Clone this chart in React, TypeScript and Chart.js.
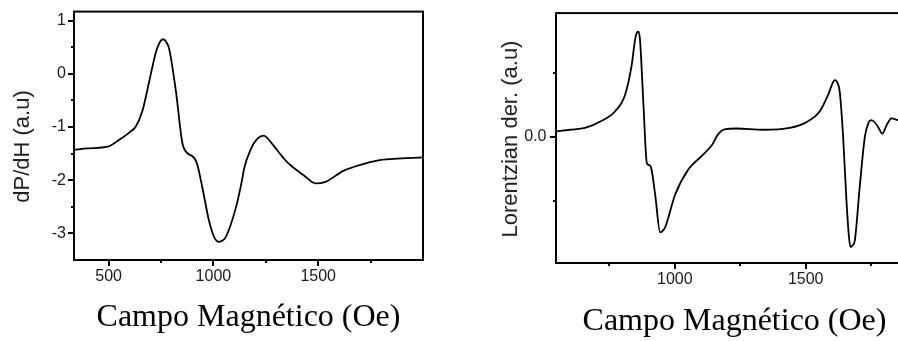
import React, { useEffect, useRef } from "react";
import { Chart, registerables } from "chart.js";

Chart.register(...registerables);

// ---------- data ----------
const LEFT_FIELD = [
  335, 400, 495, 551, 600, 630, 662, 694, 726, 745, 760, 775, 789, 821, 852, 876, 900, 912, 924, 948,
  979, 1005, 1027, 1045, 1059, 1107, 1138, 1146, 1178, 1210, 1241, 1260, 1289, 1352, 1432, 1488, 1535,
  1622, 1702, 1781, 1860, 2000,
];
const LEFT_SIGNAL = [
  -1.43, -1.4, -1.37, -1.24, -1.1, -0.99, -0.69, -0.14, 0.41, 0.6, 0.65, 0.6, 0.47, -0.32, -1.3, -1.49,
  -1.55, -1.6, -1.72, -2.15, -2.76, -3.08, -3.16, -3.13, -3.07, -2.52, -1.97, -1.79, -1.42, -1.22, -1.16,
  -1.22, -1.36, -1.66, -1.91, -2.06, -2.03, -1.82, -1.71, -1.63, -1.6, -1.57,
];
const LEFT_X_TICKS = [500, 1000, 1500];
const LEFT_X_MINOR = [750, 1250, 1750];
const LEFT_Y_TICKS = [-3, -2, -1, 0, 1];
const LEFT_Y_MINOR = [-2.5, -1.5, -0.5, 0.5];
const LEFT_X_RANGE = [335, 2000];
const LEFT_Y_RANGE = [-3.5, 1.17];

const RIGHT_FIELD = [
  546, 600, 657, 721, 772, 810, 835, 848, 856, 861, 867, 880, 893, 900, 909, 925, 944, 952, 963, 1001,
  1052, 1103, 1142, 1167, 1193, 1235, 1337, 1439, 1503, 1554, 1586, 1605, 1613, 1622, 1630, 1643, 1656,
  1666, 1672, 1680, 1688, 1707, 1726, 1740, 1751, 1765, 1777, 1793, 1809, 1828, 1853, 1880, 1910,
];
const RIGHT_SIGNAL = [
  0.085, 0.11, 0.14, 0.25, 0.4, 0.66, 1.12, 1.52, 1.64, 1.65, 1.52, 0.51, -0.41, -0.44, -0.48, -0.91,
  -1.5, -1.48, -1.42, -0.91, -0.51, -0.3, -0.13, 0.05, 0.12, 0.13, 0.11, 0.14, 0.23, 0.4, 0.66, 0.86,
  0.89, 0.84, 0.71, 0.0, -1.02, -1.6, -1.73, -1.7, -1.62, -0.76, 0.0, 0.22, 0.26, 0.22, 0.15, 0.05, 0.18,
  0.29, 0.26, 0.25, 0.25,
];
const RIGHT_X_TICKS = [1000, 1500];
const RIGHT_X_MINOR = [750, 1250, 1750];
const RIGHT_Y_TICKS = [0];
const RIGHT_Y_MINOR = [-1, 1];
const RIGHT_X_RANGE = [546, 1910];
const RIGHT_Y_RANGE = [-1.98, 1.94];

const X_TITLE = "Campo Magnético (Oe)";
const LEFT_Y_TITLE = "dP/dH (a.u)";
const RIGHT_Y_TITLE = "Lorentzian der. (a.u)";

// ---------- drawing helpers ----------
const framePlugin = {
  id: "frame",
  afterDraw(chart: any, _args: any, opts: any) {
    const { ctx, chartArea: a, scales } = chart;
    const xs = scales.x;
    const ys = scales.y;
    ctx.save();
    ctx.strokeStyle = "#000";
    ctx.lineWidth = 2;
    ctx.strokeRect(a.left, a.top, a.right - a.left, a.bottom - a.top);
    ctx.beginPath();
    const xt = (vals: number[], len: number) =>
      vals.forEach((v) => {
        const p = Math.round(xs.getPixelForValue(v));
        ctx.moveTo(p, a.bottom);
        ctx.lineTo(p, a.bottom + len);
      });
    const yt = (vals: number[], len: number) =>
      vals.forEach((v) => {
        const p = Math.round(ys.getPixelForValue(v));
        ctx.moveTo(a.left, p);
        ctx.lineTo(a.left - len, p);
      });
    xt(opts.xMajor, 6);
    xt(opts.xMinor, 3);
    yt(opts.yMajor, 6);
    yt(opts.yMinor, 3);
    ctx.stroke();
    ctx.translate(opts.titleX, opts.titleY);
    ctx.rotate(-Math.PI / 2);
    ctx.font = "22px 'Liberation Sans', Arial, sans-serif";
    ctx.fillStyle = "#222";
    ctx.textAlign = "center";
    ctx.textBaseline = "middle";
    ctx.fillText(opts.title, 0, 0);
    ctx.restore();
  },
};

type PanelProps = {
  width: number;
  field: number[];
  signal: number[];
  xRange: number[];
  yRange: number[];
  xTicks: number[];
  xMinor: number[];
  yTicks: number[];
  yMinor: number[];
  yFmt: (v: number) => string;
  yTitle: string;
  yTitleX: number;
  yTitleY: number;
  padding: { left: number; right: number; top: number; bottom: number };
  yWidth: number;
  xHeight: number;
  yLabelPad: number;
  xTitlePad: number;
};

function Panel(p: PanelProps) {
  const ref = useRef<HTMLCanvasElement | null>(null);
  useEffect(() => {
    if (!ref.current) return;
    const tickFont = { family: "'Liberation Sans', Arial, sans-serif", size: 16 };
    const chart = new Chart(ref.current, {
      type: "line",
      data: {
        datasets: [
          {
            data: p.field.map((x, i) => ({ x, y: p.signal[i] })),
            borderColor: "#000",
            borderWidth: 1.8,
            pointRadius: 0,
            fill: false,
            cubicInterpolationMode: "monotone",
          },
        ],
      },
      options: {
        responsive: false,
        animation: false,
        devicePixelRatio: 1,
        layout: { padding: p.padding },
        plugins: {
          legend: { display: false },
          tooltip: { enabled: false },
          frame: {
            xMajor: p.xTicks,
            xMinor: p.xMinor,
            yMajor: p.yTicks,
            yMinor: p.yMinor,
            title: p.yTitle,
            titleX: p.yTitleX,
            titleY: p.yTitleY,
          },
        } as any,
        scales: {
          x: {
            type: "linear",
            min: p.xRange[0],
            max: p.xRange[1],
            afterBuildTicks: (s: any) => {
              s.ticks = p.xTicks.map((v) => ({ value: v }));
            },
            afterFit: (s: any) => {
              s.height = p.xHeight;
            },
            ticks: {
              callback: (v: any) => String(v),
              font: tickFont,
              color: "#1a1a1a",
              padding: 1,
              maxRotation: 0,
              autoSkip: false,
            },
            grid: {
              display: true,
              drawOnChartArea: false,
              drawTicks: true,
              tickLength: 6,
              color: "rgba(0,0,0,0)",
            },
            border: { display: false },
            title: {
              display: true,
              text: X_TITLE,
              color: "#000",
              font: { family: "'Liberation Serif', 'Times New Roman', serif", size: 32, lineHeight: 1.2 },
              padding: { top: 0, bottom: p.xTitlePad },
            },
          },
          y: {
            type: "linear",
            min: p.yRange[0],
            max: p.yRange[1],
            afterBuildTicks: (s: any) => {
              s.ticks = p.yTicks.map((v) => ({ value: v }));
            },
            afterFit: (s: any) => {
              s.width = p.yWidth;
            },
            ticks: {
              callback: (v: any) => p.yFmt(Number(v)),
              font: tickFont,
              color: "#1a1a1a",
              padding: p.yLabelPad,
              autoSkip: false,
            },
            grid: {
              display: true,
              drawOnChartArea: false,
              drawTicks: true,
              tickLength: 6,
              color: "rgba(0,0,0,0)",
            },
            border: { display: false },
          },
        },
      } as any,
      plugins: [framePlugin],
    });
    return () => chart.destroy();
  }, []);
  return <canvas ref={ref} width={p.width} height={341} style={{ display: "block" }} />;
}

export default function App() {
  return (
    <div
      style={{
        position: "fixed",
        left: 0,
        top: 0,
        width: 898,
        height: 341,
        overflow: "hidden",
        background: "#fff",
      }}
    >
      <div style={{ position: "absolute", left: 0, top: 0 }}>
        <Panel
          width={449}
          field={LEFT_FIELD}
          signal={LEFT_SIGNAL}
          xRange={LEFT_X_RANGE}
          yRange={LEFT_Y_RANGE}
          xTicks={LEFT_X_TICKS}
          xMinor={LEFT_X_MINOR}
          yTicks={LEFT_Y_TICKS}
          yMinor={LEFT_Y_MINOR}
          yFmt={(v) => String(v)}
          yTitle={LEFT_Y_TITLE}
          yTitleX={22.5}
          yTitleY={146.5}
          padding={{ left: 0, right: 26, top: 5, bottom: 0 }}
          yWidth={74}
          xHeight={81}
          yLabelPad={2}
          xTitlePad={4}
        />
      </div>
      <div style={{ position: "absolute", left: 449, top: 0 }}>
        <Panel
          width={470}
          field={RIGHT_FIELD}
          signal={RIGHT_SIGNAL}
          xRange={RIGHT_X_RANGE}
          yRange={RIGHT_Y_RANGE}
          xTicks={RIGHT_X_TICKS}
          xMinor={RIGHT_X_MINOR}
          yTicks={RIGHT_Y_TICKS}
          yMinor={RIGHT_Y_MINOR}
          yFmt={(v) => v.toFixed(1)}
          yTitle={RIGHT_Y_TITLE}
          yTitleX={62}
          yTitleY={139}
          padding={{ left: 0, right: 6, top: 6, bottom: 0 }}
          yWidth={107}
          xHeight={78}
          yLabelPad={3.5}
          xTitlePad={0}
        />
      </div>
    </div>
  );
}
